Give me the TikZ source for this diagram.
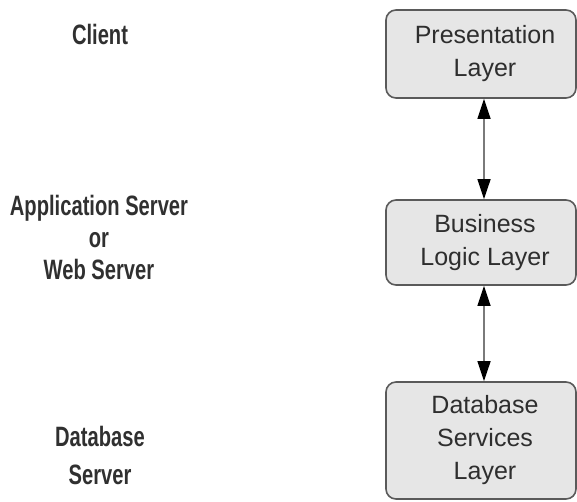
\documentclass[tikz,border=0pt]{standalone}
\usepackage{fontspec}
\setmainfont{Liberation Sans}
\newfontfamily\boxfont{Liberation Sans}
\newfontfamily\narrowfont[FakeStretch=0.72,UprightFont={* Bold}]{Liberation Sans}
\usetikzlibrary{arrows.meta}
\definecolor{boxfill}{HTML}{E6E6E6}
\definecolor{boxline}{HTML}{5A5A5A}
\definecolor{boxtext}{HTML}{2E2E2E}
\definecolor{lbltext}{HTML}{303030}
\definecolor{linkgray}{HTML}{7A7A7A}
\tikzset{
  layerbox/.style={draw=boxline, fill=boxfill, line width=1.6pt, rounded corners=10pt,
    minimum width=190pt, align=center, text=boxtext, inner sep=0pt,
    font=\boxfont\fontsize{25}{33}\selectfont},
  tierlabel/.style={align=center, text=lbltext, inner sep=0pt},
  link/.style={draw=linkgray, line width=1.3pt,
    {Triangle[length=20pt,width=13pt,color=black]}-{Triangle[length=20pt,width=13pt,color=black]}},
}
\begin{document}
\begin{tikzpicture}[x=1pt,y=-1pt]
\useasboundingbox (0,0) rectangle (577,501);
% layer boxes
\node[layerbox, minimum height=88pt] (pres) at (481,54) {\hspace*{8pt}Presentation\\\hspace*{8pt}Layer};
\node[layerbox, minimum height=85pt] (biz) at (481,242.5) {\hspace*{8pt}Business\\\hspace*{8pt}Logic Layer};
\node[layerbox, minimum height=117pt] (db) at (481,440.5) {\hspace*{8pt}Database\\\hspace*{8pt}Services\\\hspace*{8pt}Layer};
% links between layers
\draw[link] ([xshift=3pt]pres.south) -- ([xshift=3pt]biz.north);
\draw[link] ([xshift=3pt]biz.south) -- ([xshift=3pt]db.north);
% tier labels
\node[tierlabel, font=\narrowfont\fontsize{28}{32}\selectfont] (client) at (100,34) {Client};
\node[tierlabel, font=\narrowfont\fontsize{28}{32}\selectfont] (app) at (99,237) {Application Server\\or\\Web Server};
\node[tierlabel, font=\narrowfont\fontsize{28}{38}\selectfont] (dbsrv) at (100,455) {Database\\Server};
\end{tikzpicture}
\end{document}
